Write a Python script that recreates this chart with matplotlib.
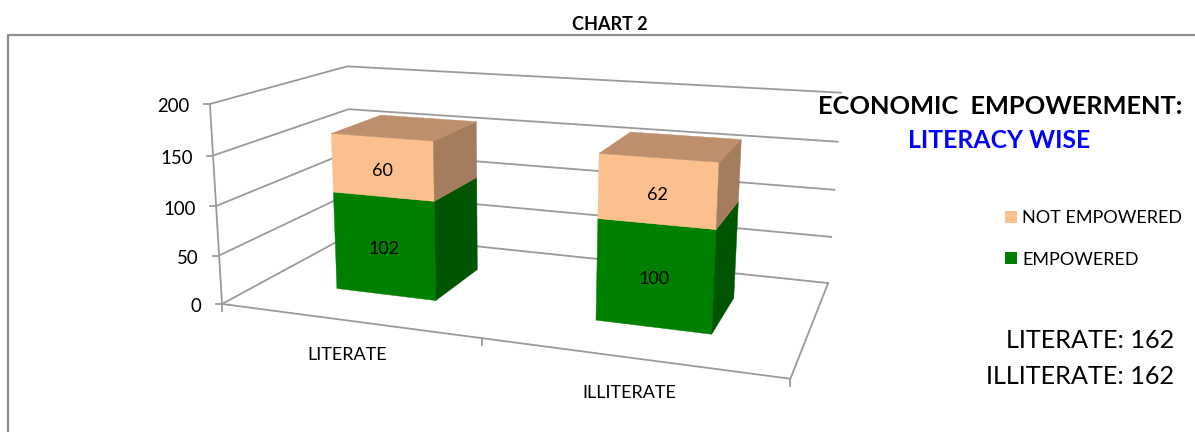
import numpy as np
import matplotlib
matplotlib.use("Agg")
import matplotlib.pyplot as plt
from matplotlib.patches import Polygon, Patch

plt.rcParams['font.family'] = ['Lato', 'DejaVu Sans']

categories = ['LITERATE', 'ILLITERATE']
empowered = [102, 100]
not_empowered = [60, 62]
y_ticks = [0, 50, 100, 150, 200]
series_names = ['NOT EMPOWERED', 'EMPOWERED']
totals_text = ['LITERATE: 162', 'ILLITERATE: 162']

GREEN = ('#008000', '#005500')
PEACH = ('#FBC08E', '#A47D5E', '#BD8F6C')
LINE = '#9a9a9a'

# camera: box corners (category, depth, value) -> canvas pixels, solved as a 3x4 projection
cam_world = np.array([[0, 0, 0], [2, 0, 0], [2, 1, 0], [0, 1, 0], [0, 0, 200], [0, 1, 200], [2, 1, 200],
                      [0, 0, 100], [2, 1, 100], [0, 0, 50], [2, 1, 50], [0, 0, 150], [2, 1, 150], [0, 1, 150], [1, 0, 0]])
cam_px = np.array([[222, 304], [790, 379], [828, 283], [351, 233], [208, 104], [348, 67], [840, 92],
                   [217, 206], [835, 190], [220, 256], [831.5, 237], [213, 155], [838, 142], [349, 109], [483, 338]])

rows, rhs = [], []
for (wx, wy, wz), (px, py) in zip(cam_world, cam_px):
    rows.append([wx, wy, wz, 1, 0, 0, 0, 0, -px * wx, -px * wy, -px * wz])
    rows.append([0, 0, 0, 0, wx, wy, wz, 1, -py * wx, -py * wy, -py * wz])
    rhs += [px, py]
cam = np.linalg.lstsq(np.array(rows, float), np.array(rhs, float), rcond=None)[0]
cam = np.append(cam, 1.0).reshape(3, 4)


def project(x, d, v):
    u = cam @ np.array([x, d, v, 1.0])
    return u[0] / u[2], u[1] / u[2]


fig = plt.figure(figsize=(11.95, 4.32), dpi=100)
ax = fig.add_axes([0, 0, 1, 1])
ax.set_xlim(0, 1195)
ax.set_ylim(432, 0)
ax.axis('off')

# outer frame, open on the right and bottom
ax.plot([8, 8, 1195], [432, 35, 35], color='#8c8c8c', lw=1.6, zorder=1)
ax.text(610, 25, 'CHART 2', ha='center', va='center', fontsize=13, fontweight='bold')

# walls, gridlines and floor
for t in y_ticks:
    pts = [project(0, 0, t), project(0, 1, t), project(2, 1, t)]
    ax.plot(*zip(*pts), color=LINE, lw=1.3, zorder=2)
    fx, fy = project(0, 0, t)
    ax.plot([fx - 6, fx], [fy, fy], color=LINE, lw=1.3, zorder=2)
    ax.text(fx - 20.5, fy + 3, str(t), ha='right', va='center', fontsize=13.4)

ax.plot(*zip(project(0, 0, 0), project(0, 0, 200)), color=LINE, lw=1.3, zorder=2)
ax.plot(*zip(project(0, 0, 0), project(2, 0, 0), project(2, 1, 0)), color=LINE, lw=1.3, zorder=2)
for x in [0, 1, 2]:
    fx, fy = project(x, 0, 0)
    ax.plot([fx, fx], [fy, fy + 7], color=LINE, lw=1.3, zorder=2)

# stacked columns
bar_w = 0.4
d0, d1 = 0.3, 0.7


def box(xc, low, high, colors, z):
    x0, x1 = xc - bar_w / 2, xc + bar_w / 2
    front = [project(x0, d0, low), project(x1, d0, low), project(x1, d0, high), project(x0, d0, high)]
    side = [project(x1, d0, low), project(x1, d1, low), project(x1, d1, high), project(x1, d0, high)]
    ax.add_patch(Polygon(front, closed=True, fc=colors[0], ec=colors[0], lw=0.3, zorder=z))
    ax.add_patch(Polygon(side, closed=True, fc=colors[1], ec=colors[1], lw=0.3, zorder=z))
    if len(colors) > 2:
        top = [project(x0, d0, high), project(x1, d0, high), project(x1, d1, high), project(x0, d1, high)]
        ax.add_patch(Polygon(top, closed=True, fc=colors[2], ec=colors[2], lw=0.3, zorder=z))


for i, name in enumerate(categories):
    xc = i + 0.5
    box(xc, 0, empowered[i], GREEN, 3)
    total = empowered[i] + not_empowered[i]
    box(xc, empowered[i], total, PEACH, 3)
    lx, ly = project(xc, d0, empowered[i] / 2)
    ax.text(lx, ly + 3, str(empowered[i]), ha='center', va='center', fontsize=13, zorder=5)
    lx, ly = project(xc, d0, empowered[i] + not_empowered[i] / 2)
    ax.text(lx, ly + 4, str(not_empowered[i]), ha='center', va='center', fontsize=13, zorder=5)
    cx, cy = project(xc, 0, 0)
    ax.text(cx, cy + 35, name, ha='center', va='center', fontsize=13)

# headings and legend at the right
ax.text(1000, 106, 'ECONOMIC  EMPOWERMENT:', ha='center', va='center', fontsize=18.3, fontweight='bold', zorder=6)
ax.text(999, 140, 'LITERACY WISE', ha='center', va='center', fontsize=17.8, fontweight='bold', color='#0000FF', zorder=6)

handles = [Patch(fc=PEACH[0], ec='none'), Patch(fc=GREEN[0], ec='none')]
ax.legend(handles, series_names, loc='upper left', bbox_to_anchor=(1005 / 1195, 1 - 210 / 432), frameon=False,
          fontsize=13, handlelength=0.67, handleheight=0.67, handletextpad=0.28, labelspacing=1.42,
          borderpad=0, borderaxespad=0)

ax.text(1174, 340, totals_text[0], ha='right', va='center', fontsize=18.2)
ax.text(1174, 376, totals_text[1], ha='right', va='center', fontsize=18.2)

fig.savefig('out.png', dpi=100)
